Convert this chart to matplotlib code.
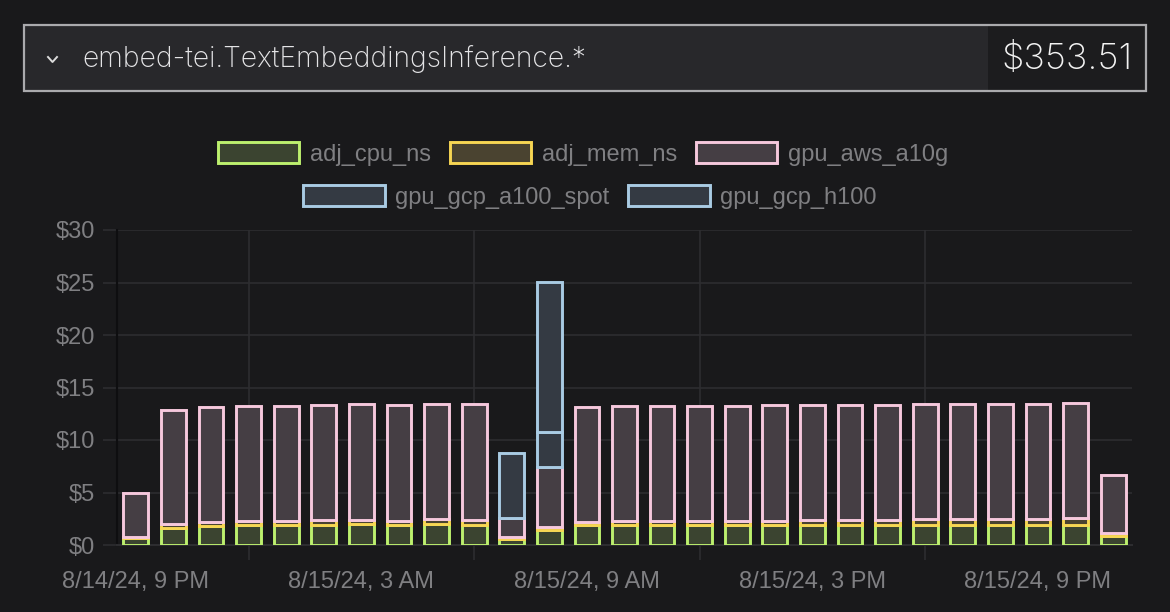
import numpy as np
import matplotlib
matplotlib.use("Agg")
import matplotlib.pyplot as plt
from matplotlib.patches import Rectangle
from matplotlib.lines import Line2D

# hourly cost, 8/14/24 9 PM .. 8/15/24 11 PM
tick_labels = ['8/14/24, 9 PM', '8/15/24, 3 AM', '8/15/24, 9 AM',
               '8/15/24, 3 PM', '8/15/24, 9 PM']
tick_hours = [0, 6, 12, 18, 24]
grid_hours = [3, 9, 15, 21]

adj_cpu_ns = [0.65, 1.65, 1.84, 1.87, 1.94, 1.94, 2.00, 1.94, 2.03, 1.94,
              0.57, 1.46, 1.90, 1.90, 1.90, 1.90, 1.90, 1.90, 1.90, 1.90,
              1.90, 1.90, 1.90, 1.90, 1.90, 1.90, 0.86]
adj_mem_ns = [0.08, 0.32, 0.35, 0.38, 0.35, 0.41, 0.38, 0.38, 0.41, 0.47,
              0.19, 0.22, 0.32, 0.38, 0.42, 0.39, 0.39, 0.42, 0.45, 0.48,
              0.48, 0.54, 0.58, 0.61, 0.61, 0.67, 0.30]
gpu_aws_a10g = [4.25, 10.93, 10.95, 10.95, 10.98, 10.98, 11.02, 10.98, 10.96, 10.99,
                1.79, 5.78, 10.95, 10.95, 10.95, 10.98, 10.98, 10.98, 10.98, 10.99,
                10.99, 10.99, 10.95, 10.95, 10.95, 10.95, 5.52]
gpu_gcp_a100_spot = [0, 0, 0, 0, 0, 0, 0, 0, 0, 0,
                     6.25, 3.27, 0, 0, 0, 0, 0, 0, 0, 0,
                     0, 0, 0, 0, 0, 0, 0]
gpu_gcp_h100 = [0, 0, 0, 0, 0, 0, 0, 0, 0, 0,
                0, 14.35, 0, 0, 0, 0, 0, 0, 0, 0,
                0, 0, 0, 0, 0, 0, 0]

series = [
    ('adj_cpu_ns', adj_cpu_ns, '#3b4430', '#bdf06e'),
    ('adj_mem_ns', adj_mem_ns, '#4a4330', '#f7d653'),
    ('gpu_aws_a10g', gpu_aws_a10g, '#453e44', '#f6c8dd'),
    ('gpu_gcp_a100_spot', gpu_gcp_a100_spot, '#343a43', '#a9cbe3'),
    ('gpu_gcp_h100', gpu_gcp_h100, '#343a43', '#a9cbe3'),
]

bg = '#19191b'
grid_c = '#2d2d30'
text_c = '#7f7f82'
fs = 17

plt.rcParams['font.family'] = ['Liberation Sans', 'DejaVu Sans']

fig = plt.figure(figsize=(11.7, 6.12), dpi=100, facecolor=bg)
ax = fig.add_axes([117 / 1170, 67 / 612, 1015 / 1170, 315 / 612])
ax.set_facecolor(bg)

x = np.arange(len(adj_cpu_ns))
bottom = np.zeros(len(x))
handles = []
for name, vals, face, edge in series:
    vals = np.array(vals)
    mask = vals > 0
    b = ax.bar(x[mask], vals[mask], bottom=bottom[mask], width=0.66,
               color=face, edgecolor=edge, linewidth=2.1, label=name, zorder=3)
    handles.append(b)
    bottom += vals

ax.set_xlim(-0.5, 26.5)
ax.set_ylim(0, 30)
ax.set_yticks([0, 5, 10, 15, 20, 25, 30])
ax.set_yticklabels(['$0', '$5', '$10', '$15', '$20', '$25', '$30'])
ax.grid(axis='y', color=grid_c, linewidth=1.2, zorder=0)

# vertical grid lines at the 3-hour offsets, labels on the others
ax.set_xticks(grid_hours)
ax.set_xticklabels([])
ax.set_xticks(tick_hours, minor=True)
ax.set_xticklabels(tick_labels, minor=True)
for h in grid_hours:
    ax.axvline(h, color=grid_c, linewidth=1.2, zorder=0)

ax.tick_params(axis='x', which='major', length=11, color=grid_c, width=1.2)
ax.tick_params(axis='x', which='minor', length=0, pad=19, labelsize=fs, labelcolor=text_c)
ax.tick_params(axis='y', length=10, color=grid_c, width=1.2, pad=6,
               labelsize=fs, labelcolor=text_c)

for s in ['top', 'right']:
    ax.spines[s].set_visible(False)
ax.spines['left'].set_color('#0e0e10')
ax.spines['left'].set_linewidth(1.5)
ax.spines['bottom'].set_color(grid_c)
ax.spines['bottom'].set_linewidth(1.5)

# legend, two centred rows
leg_kw = dict(frameon=False, fontsize=fs, labelcolor=text_c, handlelength=3.45,
              handleheight=0.95, handletextpad=0.45, columnspacing=0.8, loc='center')
fig.legend(handles[:3], [s[0] for s in series[:3]], ncol=3,
           bbox_to_anchor=(583 / 1170, 1 - 154 / 612), **leg_kw)
fig.legend(handles[3:], [s[0] for s in series[3:]], ncol=2,
           bbox_to_anchor=(590 / 1170, 1 - 197 / 612), **leg_kw)

# header box
fig.patches.append(Rectangle((24 / 1170, 1 - 91 / 612), 964 / 1170, 66 / 612,
                             transform=fig.transFigure, facecolor='#28282b',
                             edgecolor='none', zorder=1))
fig.patches.append(Rectangle((988 / 1170, 1 - 91 / 612), 158 / 1170, 66 / 612,
                             transform=fig.transFigure, facecolor='#1c1c1e',
                             edgecolor='none', zorder=1))
fig.patches.append(Rectangle((24 / 1170, 1 - 91 / 612), 1122 / 1170, 66 / 612,
                             transform=fig.transFigure, facecolor='none',
                             edgecolor='#aaaaad', linewidth=1.6, zorder=2))
fig.lines.append(Line2D([48 / 1170, 52.5 / 1170, 57 / 1170],
                        [1 - 57 / 612, 1 - 62 / 612, 1 - 57 / 612],
                        transform=fig.transFigure, color='#dcdcdc', linewidth=1.4))
fig.text(82 / 1170, 1 - 59 / 612, 'embed-tei.TextEmbeddingsInference.*',
         color='#e4e4e6', fontsize=20.4, family=['Inter', 'DejaVu Sans'],
         fontweight='light', va='center', ha='left')
fig.text(1133 / 1170, 1 - 59 / 612, '$353.51', color='#f2f2f2', fontsize=26,
         family=['Inter', 'DejaVu Sans'], fontweight='light', va='center', ha='right')

fig.savefig('out.png', dpi=100, facecolor=bg)
